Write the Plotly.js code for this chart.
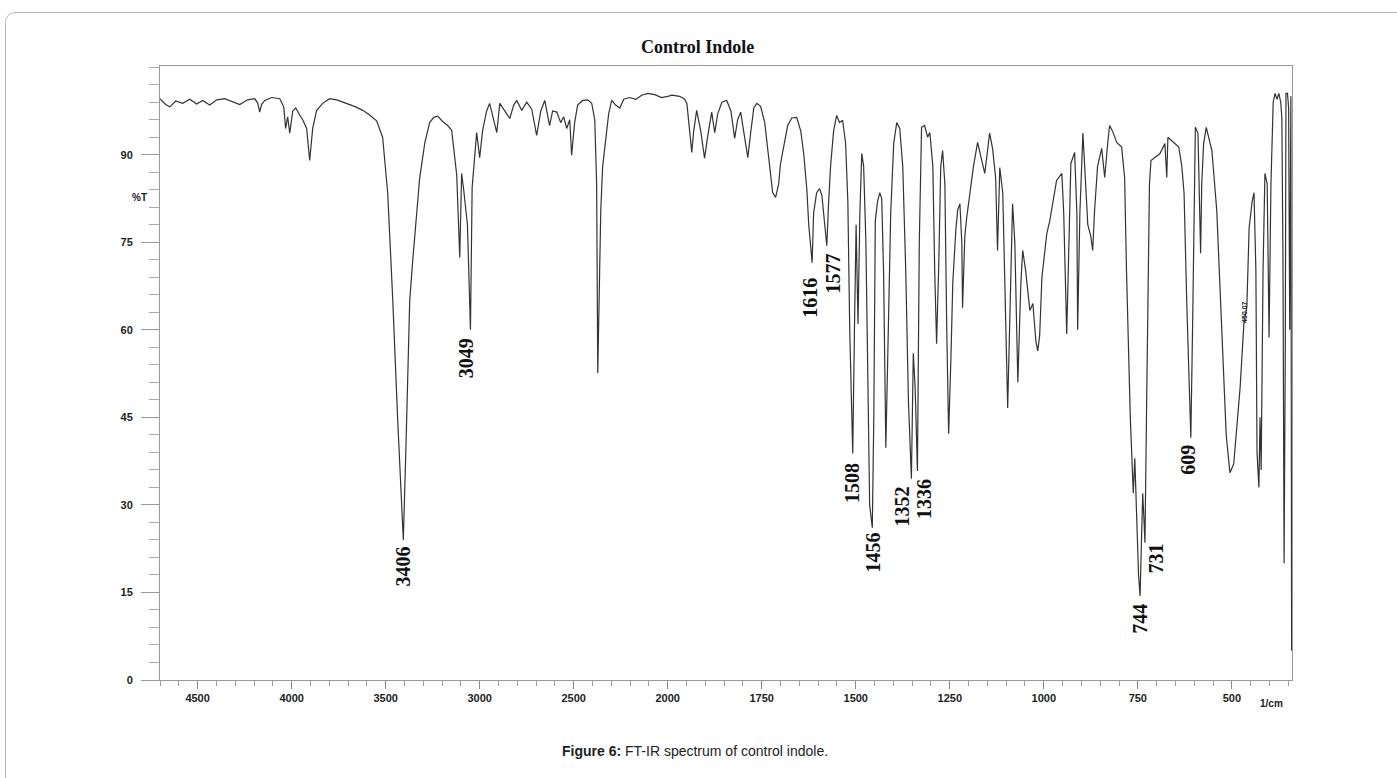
<!DOCTYPE html>
<html><head><meta charset="utf-8">
<script src="https://cdn.plot.ly/plotly-3.0.1.min.js"></script>
<style>
html,body{margin:0;padding:0;background:#fff;overflow:hidden;}
#frame{position:absolute;left:5px;top:12px;width:1430px;height:820px;border:1px solid #b5b5b5;border-radius:10px;}
#chart{position:absolute;left:0;top:0;width:1397px;height:778px;}
</style></head><body>
<div id="frame"></div>
<div id="chart"></div>
<script>
const wavenumber = [
4700,4670,4648,4616,4579,4542,4505,4473,4436,4398,4356,4319,4276,4234,4196,4180,4170,4160,4143,4106,
4063,4042,4032,4021,4010,3994,3978,3957,3941,3920,3904,3888,3867,3835,3798,3760,3723,3691,3659,3622,
3585,3548,3516,3489,3470,3462,3436,3415,3406,3392,3380,3372,3356,3335,3319,3292,3266,3244,3223,3197,
3170,3149,3133,3122,3106,3096,3085,3074,3065,3049,3040,3016,3000,2984,2963,2947,2925,2909,2893,2867,
2840,2819,2803,2776,2750,2723,2697,2675,2654,2628,2612,2590,2569,2553,2537,2521,2511,2495,2479,2452,
2425,2404,2388,2378,2372,2362,2356,2346,2330,2314,2298,2277,2255,2234,2202,2170,2138,2106,2069,2032,
2000,1989,1968,1955,1949,1941,1936,1931,1923,1912,1902,1894,1883,1875,1867,1856,1843,1832,1822,1814,
1806,1798,1787,1779,1771,1763,1753,1742,1731,1721,1713,1705,1700,1692,1681,1670,1657,1646,1638,1630,
1625,1616,1612,1604,1596,1590,1583,1577,1572,1567,1559,1551,1543,1535,1527,1521,1516,1508,1503,1499,
1494,1489,1484,1479,1473,1468,1463,1456,1452,1448,1442,1436,1431,1426,1420,1415,1407,1399,1391,1383,
1375,1367,1360,1352,1347,1342,1336,1331,1325,1317,1309,1303,1295,1290,1285,1279,1274,1269,1263,1258,
1253,1247,1242,1234,1229,1223,1218,1216,1213,1210,1205,1197,1187,1176,1165,1157,1149,1144,1136,1128,
1123,1117,1109,1104,1096,1091,1083,1077,1069,1061,1056,1048,1037,1029,1021,1016,1011,1005,992,984,
973,966,952,947,939,934,928,918,912,910,904,896,888,883,875,870,865,857,846,838,
830,825,817,806,793,785,780,770,762,758,754,748,744,740,737,734,731,727,723,719,
715,704,691,678,673,670,654,641,633,627,620,614,609,604,600,597,590,586,583,580,
575,568,553,540,526,515,505,495,478,468,460,454,446,441,436,433,428,425,422,417,
412,406,401,396,390,385,380,375,370,367,364,361,358,356,352,349,346,343,341
];
const transmittance = [
99.6,98.6,98.2,99.2,98.8,99.5,98.7,99.3,98.5,99.4,99.6,99.2,98.6,99.4,99.6,98.8,97.3,98.6,99.3,99.8,
99.6,98.2,94.5,96.5,93.7,97.5,98.0,96.8,96.0,94.5,89.0,94.5,97.6,98.8,99.6,99.4,99.0,98.6,98.2,97.6,
96.8,95.8,93.0,83.4,72.0,65.0,44.6,30.0,24.0,40.0,55.0,65.0,71.9,80.0,86.0,92.0,95.5,96.4,96.6,95.7,
95.0,94.2,89.0,86.5,72.4,86.8,84.0,80.0,78.0,60.0,84.4,93.8,89.5,94.2,97.5,98.8,96.0,93.8,98.8,97.5,
96.2,98.5,99.3,97.6,99.0,97.8,93.3,97.5,99.3,95.0,97.5,97.3,95.5,96.5,94.5,96.0,89.9,95.5,98.5,99.3,
99.4,98.8,96.0,85.0,52.6,70.0,80.5,88.0,92.0,97.0,99.3,98.5,98.0,99.5,99.8,99.5,100.2,100.5,100.3,99.8,
100.0,100.2,100.0,99.5,98.8,94.0,90.4,94.0,97.6,94.0,89.4,93.0,97.3,93.8,97.0,99.0,99.3,97.5,92.8,96.0,
97.3,94.0,89.5,94.0,98.0,98.8,98.3,95.5,89.5,83.5,82.7,85.0,88.5,91.5,95.0,96.3,96.4,94.0,90.0,84.0,
78.0,71.5,80.0,83.5,84.2,83.0,78.0,74.4,82.0,88.0,94.0,96.7,95.5,95.9,92.0,82.0,60.0,38.8,62.0,78.0,
61.0,80.0,90.2,88.0,75.0,50.0,30.0,26.1,45.0,78.7,82.0,83.5,82.5,70.0,39.8,55.0,80.0,92.0,95.5,94.5,
88.0,70.0,48.0,34.5,56.0,50.0,35.8,75.0,94.7,95.0,93.0,93.8,88.0,70.0,57.6,72.0,88.0,90.7,85.0,60.0,
42.2,55.0,68.0,77.0,80.5,81.6,75.0,63.8,72.0,76.0,79.2,83.0,88.0,92.1,89.0,86.8,91.0,93.7,91.0,86.0,
73.6,87.8,83.4,70.0,46.6,60.0,81.6,75.0,51.0,68.0,73.6,70.0,63.3,64.5,58.0,56.4,59.0,69.0,76.5,78.7,
83.0,85.6,86.8,80.0,59.3,75.0,88.5,90.4,80.0,60.0,80.0,93.7,85.0,78.0,76.0,73.6,80.4,88.0,91.1,86.1,
92.0,95.0,94.0,92.1,91.3,86.0,70.0,45.0,32.0,38.0,30.0,18.0,14.4,25.0,32.0,28.0,23.5,45.0,70.0,85.0,
89.0,89.5,90.2,91.9,86.1,93.0,92.1,91.3,88.0,83.4,65.0,50.0,41.5,62.0,85.0,94.7,93.7,82.0,73.1,85.0,
91.9,94.7,90.7,80.4,57.6,42.0,35.5,37.0,50.1,61.0,64.0,77.5,82.0,83.5,70.0,39.0,33.0,45.0,36.0,70.0,
86.8,85.0,58.7,85.0,99.0,100.5,99.5,100.5,99.0,96.4,72.0,20.0,55.0,100.5,100.5,98.0,60.0,100.0,5.0
];
const xTickValues = [4500,4000,3500,3000,2500,2000,1750,1500,1250,1000,750,500];
const yTickValues = [0,15,30,45,60,75,90];
const peakWavenumbers = [3406,3049,1616,1577,1508,1456,1352,1336,744,731,609];
const smallPeak = 450.07;

// scale change at 2000 1/cm (upper region compressed by a factor of 2)
function toAxis(w){ return w <= 2000 ? w : 2000 + (w - 2000) / 2; }

// label placement (layout only)
const labelY = [19.5, 55.2, 65.5, 69.6, 33.7, 21.9, 29.8, 31.1, 10.5, 20.8, 37.7];
const labelShift = [0, -5, -2, 6, 0, 1, -9, 7, 0, 11, -3];

const trace = {
  x: wavenumber.map(toAxis), y: transmittance, type: 'scatter', mode: 'lines',
  line: {color: '#333', width: 1.2}, hoverinfo: 'skip'
};

const annotations = peakWavenumbers.map((p, i) => ({
  x: toAxis(p), y: labelY[i], xref: 'x', yref: 'y', text: String(p), showarrow: false,
  textangle: -90, xanchor: 'center', yanchor: 'middle', xshift: labelShift[i],
  font: {family: 'Liberation Serif, Times New Roman, serif', size: 20, color: '#111', weight: 'bold'}
}));
annotations.push({
  x: toAxis(smallPeak), y: 63, xref: 'x', yref: 'y', text: smallPeak.toFixed(2), showarrow: false,
  textangle: -90, xanchor: 'center', yanchor: 'middle', xshift: -6,
  font: {family: 'Liberation Sans, Arial, sans-serif', size: 7, color: '#222', weight: 'bold'}
});
annotations.push({
  x: 0.475, y: 1.031, xref: 'paper', yref: 'paper', text: 'Control Indole', showarrow: false,
  xanchor: 'center', yanchor: 'middle',
  font: {family: 'Liberation Serif, Times New Roman, serif', size: 18, color: '#111', weight: 'bold'}
});
annotations.push({
  x: -0.0177, y: 0.7866, xref: 'paper', yref: 'paper', text: '%T', showarrow: false,
  xanchor: 'center', yanchor: 'middle',
  font: {family: 'Liberation Sans, Arial, sans-serif', size: 10, color: '#222', weight: 'bold'}
});
annotations.push({
  x: 0.982, y: -0.0375, xref: 'paper', yref: 'paper', text: '1/cm', showarrow: false,
  xanchor: 'center', yanchor: 'middle',
  font: {family: 'Liberation Sans, Arial, sans-serif', size: 10, color: '#222', weight: 'bold'}
});
annotations.push({
  x: 0.473, y: -0.1156, xref: 'paper', yref: 'paper',
  text: '<b>Figure 6:</b> FT-IR spectrum of control indole.', showarrow: false,
  xanchor: 'center', yanchor: 'middle',
  font: {family: 'Liberation Sans, Arial, sans-serif', size: 14, color: '#222'}
});

const tickFont = {family: 'Liberation Sans, Arial, sans-serif', size: 11, color: '#222', weight: 'bold'};

const layout = {
  width: 1397, height: 778,
  margin: {l: 160, r: 105, t: 66, b: 98},
  paper_bgcolor: 'rgba(0,0,0,0)', plot_bgcolor: '#fff',
  showlegend: false,
  xaxis: {
    range: [toAxis(4700), toAxis(340)],
    tickmode: 'array', tickvals: xTickValues.map(toAxis), ticktext: xTickValues.map(String),
    ticks: 'outside', ticklen: 8, tickcolor: '#888', tickwidth: 1,
    minor: {tickmode: 'linear', tick0: 0, dtick: 50, ticks: 'outside', ticklen: 5, tickcolor: '#999'},
    showgrid: false, zeroline: false, showline: true, linecolor: '#999', linewidth: 1, mirror: true,
    tickfont: tickFont
  },
  yaxis: {
    range: [0, 105.2],
    tickmode: 'array', tickvals: yTickValues,
    ticks: 'outside', ticklen: 18, tickcolor: '#999', tickwidth: 1,
    minor: {tickmode: 'linear', tick0: 0, dtick: 3, ticks: 'outside', ticklen: 10, tickcolor: '#aaa'},
    showgrid: false, zeroline: false, showline: true, linecolor: '#999', linewidth: 1, mirror: true,
    tickfont: tickFont, ticklabelstandoff: 6
  },
  annotations: annotations
};

Plotly.newPlot('chart', [trace], layout, {displayModeBar: false, staticPlot: true});
</script>
</body></html>
